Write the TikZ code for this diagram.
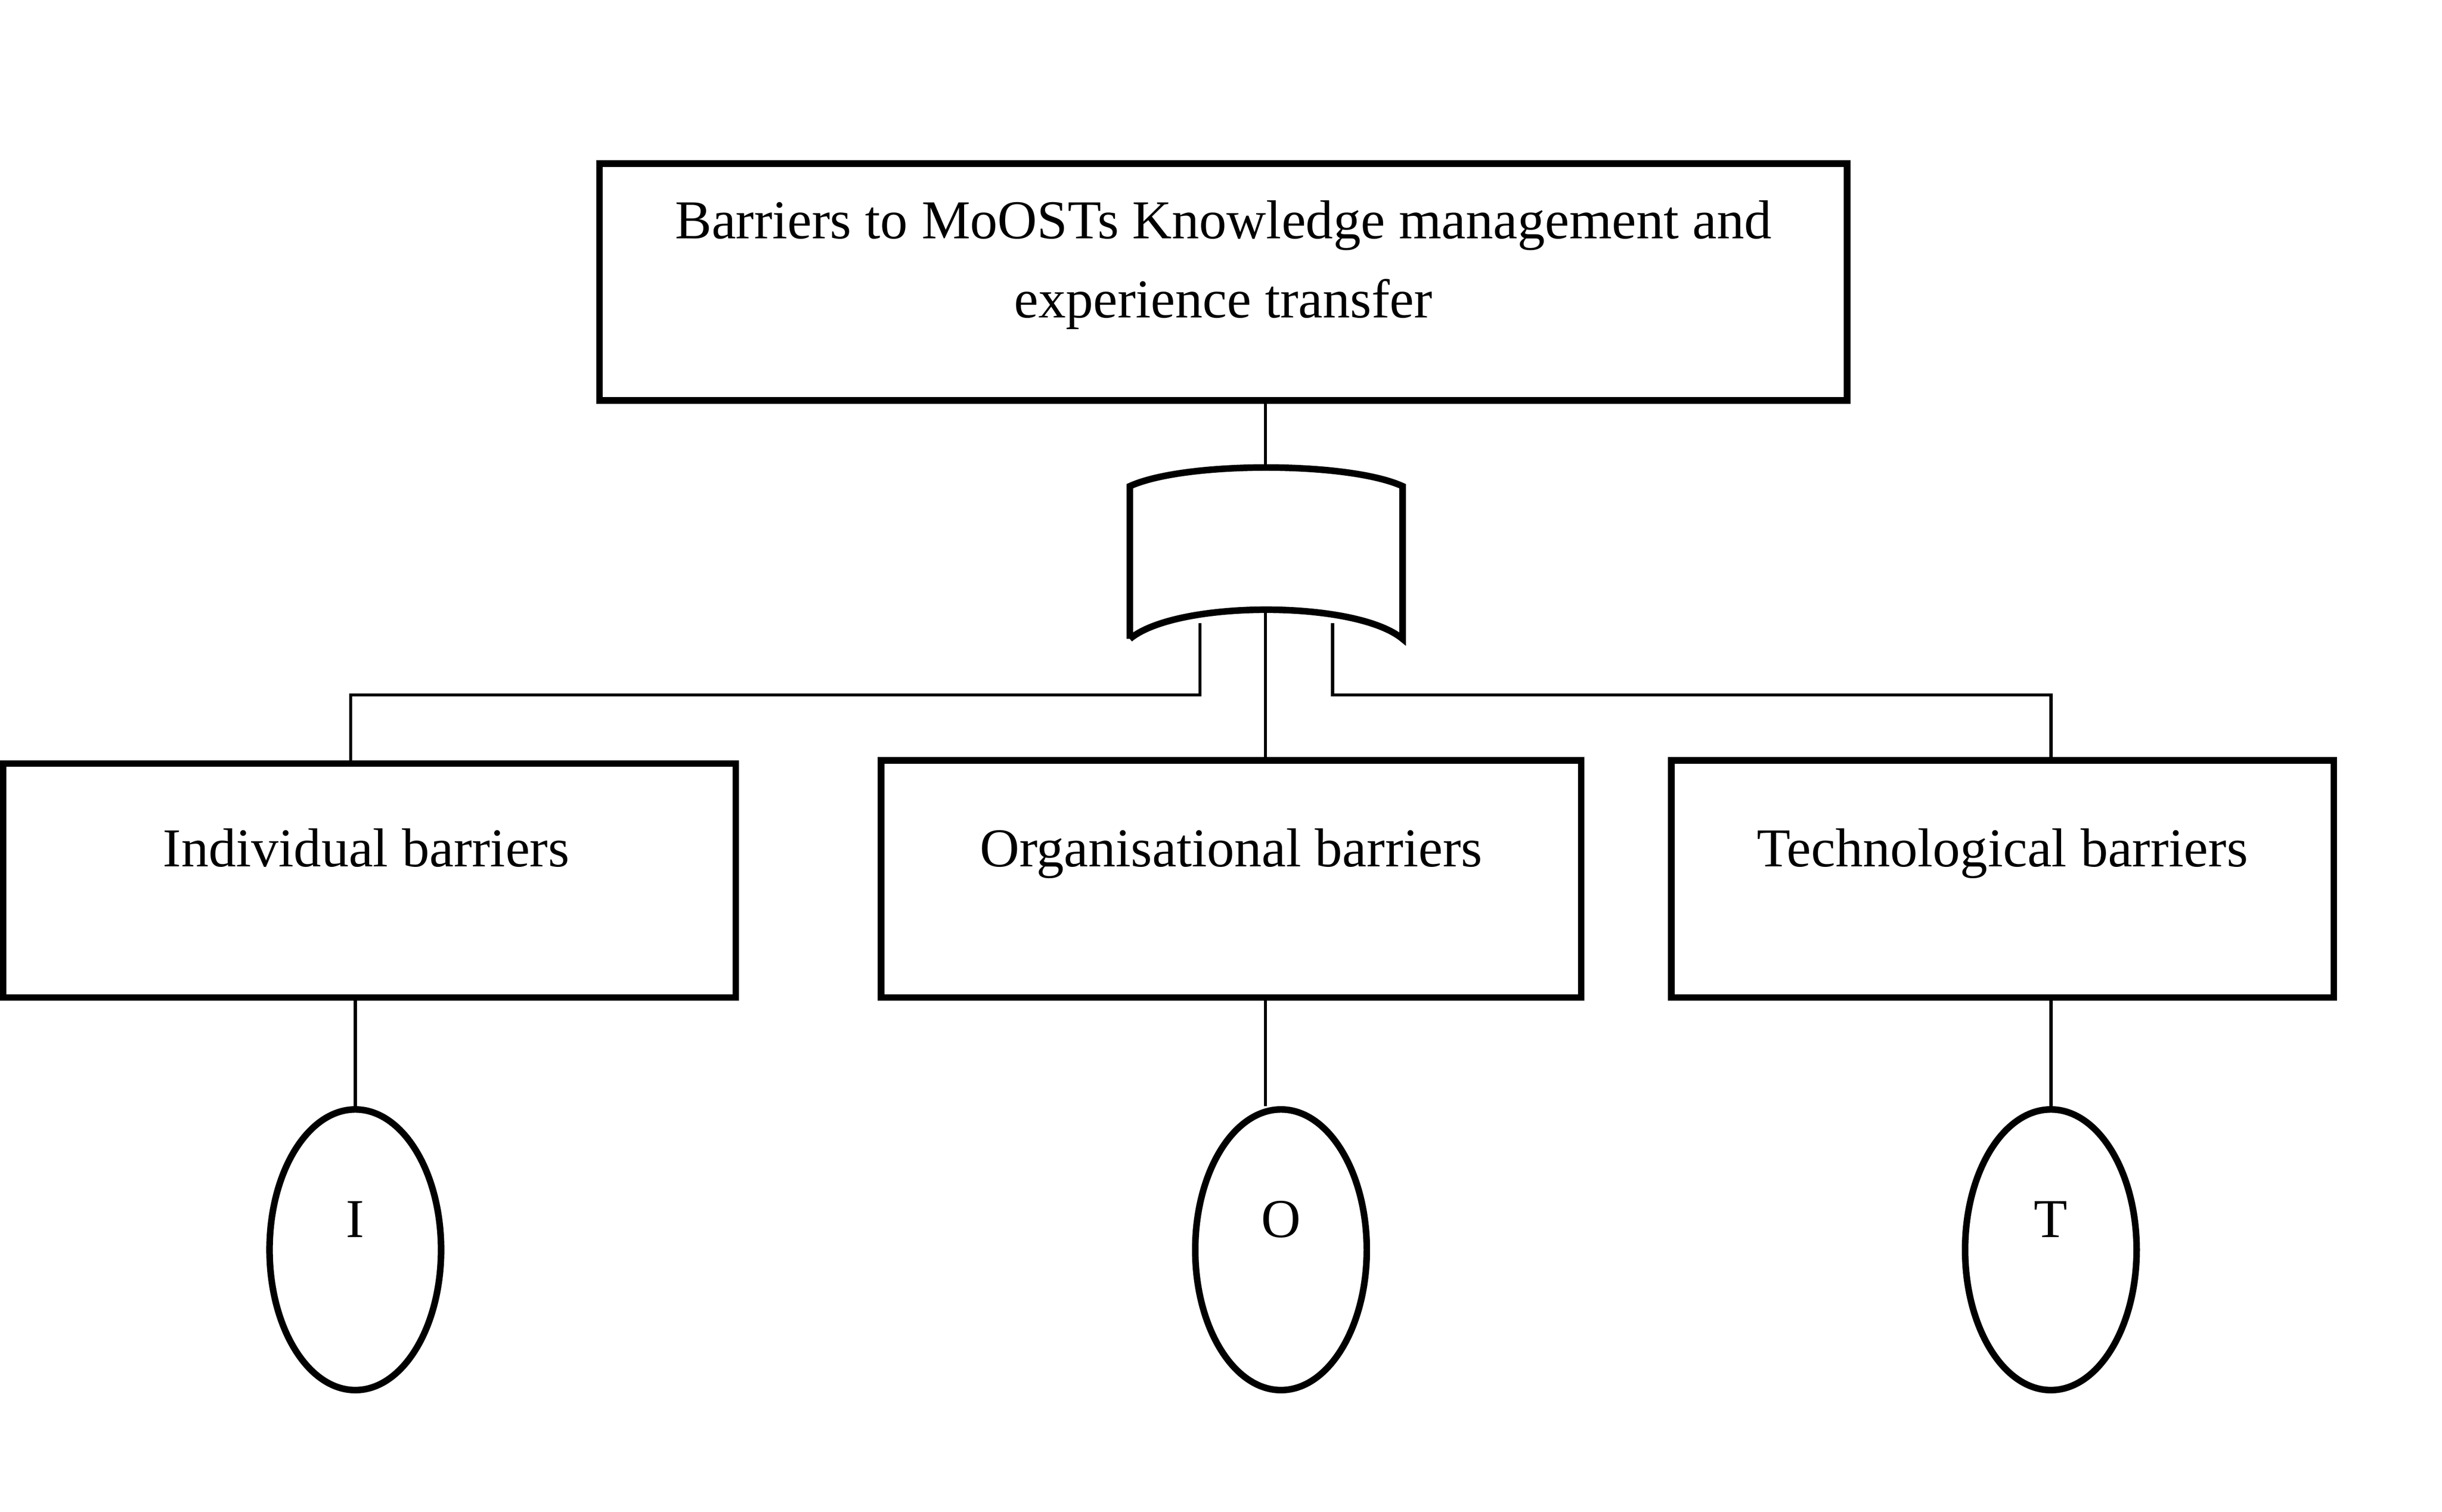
\documentclass[tikz,border=0pt]{standalone}
\usepackage{fontspec}
\setmainfont{Liberation Serif}
\usetikzlibrary{shapes.geometric}
\tikzset{
  box/.style={draw, line width=1.2pt, minimum width=#1, minimum height=1.5cm, inner sep=0pt},
  leaf/.style={draw, ellipse, line width=1.2pt, minimum width=1.1cm, minimum height=1.8cm, inner sep=0pt},
  wire/.style={line width=0.6pt},
  label/.style={anchor=base}
}
\begin{document}
\begin{tikzpicture}[x=0.01cm,y=-0.01cm,font=\fontsize{10}{14.5}\selectfont]
      \useasboundingbox (0,0) rectangle (1567,970);
      \node[box=8cm, minimum height=1.52cm, align=center] (top) at (785,181) {};
      \node at (785,170) [align=center] {Barriers to MoOSTs Knowledge management and\\experience transfer};
      \node[box=4.7cm] (ind) at (237,565) {};
      \node[box=4.49cm, minimum height=1.52cm] (org) at (790,564) {};
      \node[box=4.25cm, minimum height=1.52cm] (tec) at (1285,564) {};
      \node[label] at (235,556) {Individual barriers};
      \node[label] at (790,556) {Organisational barriers};
      \node[label] at (1285,556) {Technological barriers};
      \node[leaf] (i) at (228,802) {};
      \node[leaf] (o) at (822,802) {};
      \node[leaf] (t) at (1316,802) {};
      \node[label] at (228,794) {I};
      \node[label] at (822,794) {O};
      \node[label] at (1316,794) {T};
      % gate
      \coordinate (gtop) at (812,300);
      \coordinate (gmid) at (812,392);
      \coordinate (gl) at (770,400);
      \coordinate (gr) at (855,400);
      \draw[line width=1.2pt] (725,410) -- (725,312) .. controls (760,296) and (865,296) .. (900,312)
        -- (900,410) .. controls (870,385) and (755,385) .. (725,410);
      \draw[wire] (top.south -| gtop) -- (gtop);
      \draw[wire] (gmid) -- (org.north -| gmid);
      \draw[wire] (gl) |- (225,446) -- (ind.north -| 225,0);
      \draw[wire] (gr) |- (1316,446) -- (tec.north -| 1316,0);
      \draw[wire] (ind.south -| i) -- (i.north);
      \draw[wire] (org.south -| 812,0) -- (o.north -| 812,0);
      \draw[wire] (tec.south -| t) -- (t.north);
\end{tikzpicture}
\end{document}
